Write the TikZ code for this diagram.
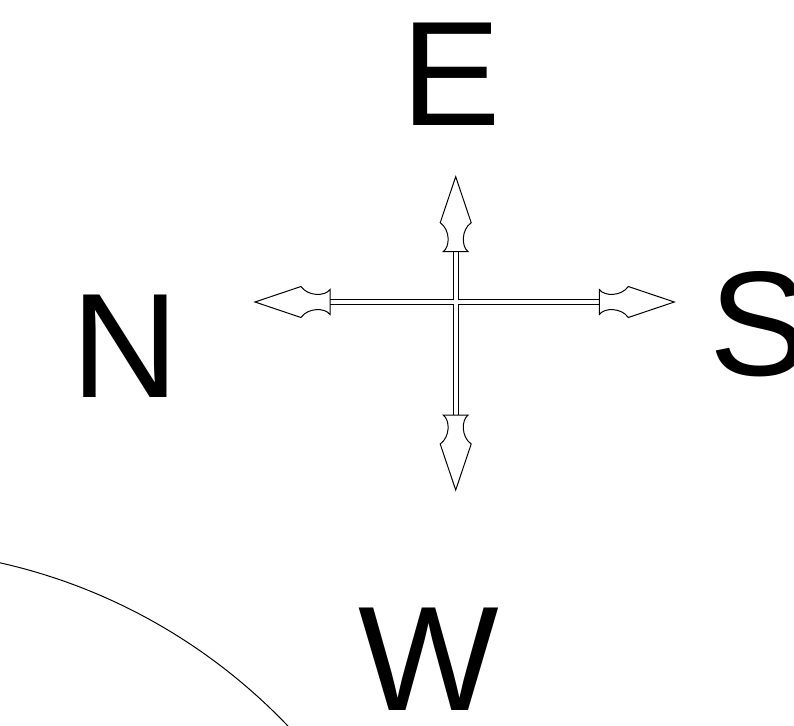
\documentclass[tikz,border=0pt]{standalone}
\usepackage{fontspec}
\setmainfont{Liberation Sans}
\begin{document}
\begin{tikzpicture}[x=1pt,y=-1pt,
  lbl/.style={inner sep=0pt,outer sep=0pt,anchor=base,font=\fontsize{149}{149}\selectfont},
  spear/.pic={
    \draw[line width=1pt,fill=white,line join=miter]
      (12.5,0) .. controls (5.5,-5) and (5.5,-22) .. (15.5,-29)
      -- (0,-75) -- (-15.5,-29)
      .. controls (-5.5,-22) and (-5.5,-5) .. (-12.5,0) -- cycle;
  }]
\useasboundingbox (0,0) rectangle (794,725);
\clip (0,0) rectangle (794,725);
% labels
\node[lbl] (E) at (450.7,125.7) {E};
\node[lbl] (N) at (125,397.3) {N};
\node[lbl] (S) at (758.7,375.3) {S};
\node[lbl] (W) at (428.7,710) {W};
% cross
\coordinate (c) at (455.7,302);
\coordinate (tb) at (455.7,251.7);
\coordinate (bb) at (455.7,415);
\coordinate (lb) at (330,302);
\coordinate (rb) at (599.3,302);
\draw[line width=6pt] (tb) -- (bb) (lb) -- (rb);
\draw[line width=4pt,white] (tb) -- (bb) (lb) -- (rb);
\pic at (tb) {spear};
\pic[rotate=180] at (bb) {spear};
\pic[rotate=90] at (lb) {spear};
\pic[rotate=-90] at (rb) {spear};
% arc
\coordinate (o) at (-125.9,1120.9);
\draw[line width=1pt] (o) circle[radius=572];
\end{tikzpicture}
\end{document}
